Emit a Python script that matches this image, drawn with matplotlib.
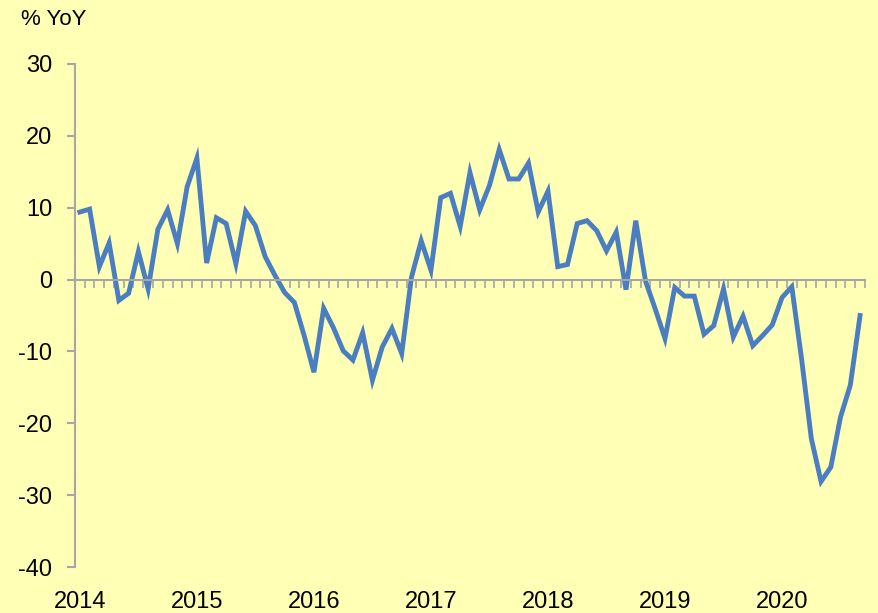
import numpy as np
import matplotlib.pyplot as plt

plt.rcParams["font.family"] = ["Liberation Sans", "DejaVu Sans"]

# monthly % YoY, Jan 2014 .. Sep 2020
yoy = [
    9.4, 9.8, 1.8, 5.1, -2.9, -1.9, 3.9, -1.3, 7.0, 9.7, 5.0, 12.9,    # 2014
    16.9, 2.3, 8.6, 7.8, 2.2, 9.5, 7.5, 3.2, 0.6, -1.8, -3.2, -7.8,    # 2015
    -12.9, -4.0, -6.7, -9.9, -11.2, -7.4, -14.0, -9.4, -6.8, -10.3, 0.3, 5.4,  # 2016
    1.3, 11.4, 12.0, 7.4, 14.9, 9.7, 13.1, 18.1, 14.0, 14.0, 16.2, 9.4,  # 2017
    12.3, 1.8, 2.1, 7.8, 8.2, 6.8, 4.0, 6.6, -1.4, 8.2, -0.2, -4.1,    # 2018
    -8.2, -1.1, -2.3, -2.3, -7.6, -6.4, -1.3, -8.0, -5.1, -9.2, -7.8, -6.3,  # 2019
    -2.5, -1.0, -11.0, -22.1, -28.1, -26.1, -19.1, -14.7, -5.0,        # 2020
]
years = ["2014", "2015", "2016", "2017", "2018", "2019", "2020"]
y_ticks = [30, 20, 10, 0, -10, -20, -30, -40]

bg = "#FFFFB5"
line_col = "#4A7EC0"
axis_col = "#A6A6A6"

months = np.arange(len(yoy))

fig = plt.figure(figsize=(8.79, 6.13), dpi=100, facecolor=bg)
ax = fig.add_axes([0.0853, 0.075, 0.8987, 0.8206])
ax.set_facecolor(bg)

ax.plot(months, yoy, color=line_col, linewidth=3.5, solid_joinstyle="miter")

ax.set_xlim(-0.5, len(yoy) - 0.5)
ax.set_ylim(-40, 30)

# spines: left axis only, x axis drawn along zero
for s in ["top", "right"]:
    ax.spines[s].set_visible(False)
ax.spines["left"].set_color(axis_col)
ax.spines["left"].set_linewidth(1.5)
ax.spines["bottom"].set_position(("data", 0))
ax.spines["bottom"].set_color(axis_col)
ax.spines["bottom"].set_linewidth(1.5)

ax.set_yticks(y_ticks)
ax.set_yticklabels([str(v) for v in y_ticks])
ax.tick_params(axis="y", colors=axis_col, length=6, width=1.5, pad=10.5,
               labelsize=17, labelcolor="black")

# month boundary ticks on the zero line
ax.set_xticks(np.arange(len(yoy)) + 0.5, minor=True)
ax.set_xticks([])
ax.tick_params(axis="x", which="minor", direction="out", length=6,
               width=1.2, color=axis_col)

# year labels at bottom
sec = ax.secondary_xaxis(location=0)
sec.set_xticks(np.arange(len(years)) * 12)
sec.set_xticklabels(years)
sec.tick_params(length=0, pad=17, labelsize=17)
sec.spines["bottom"].set_visible(False)

fig.text(0.024, 0.969, "% YoY", fontsize=16, ha="left", va="center")

fig.savefig("out.png", dpi=100, facecolor=bg)
